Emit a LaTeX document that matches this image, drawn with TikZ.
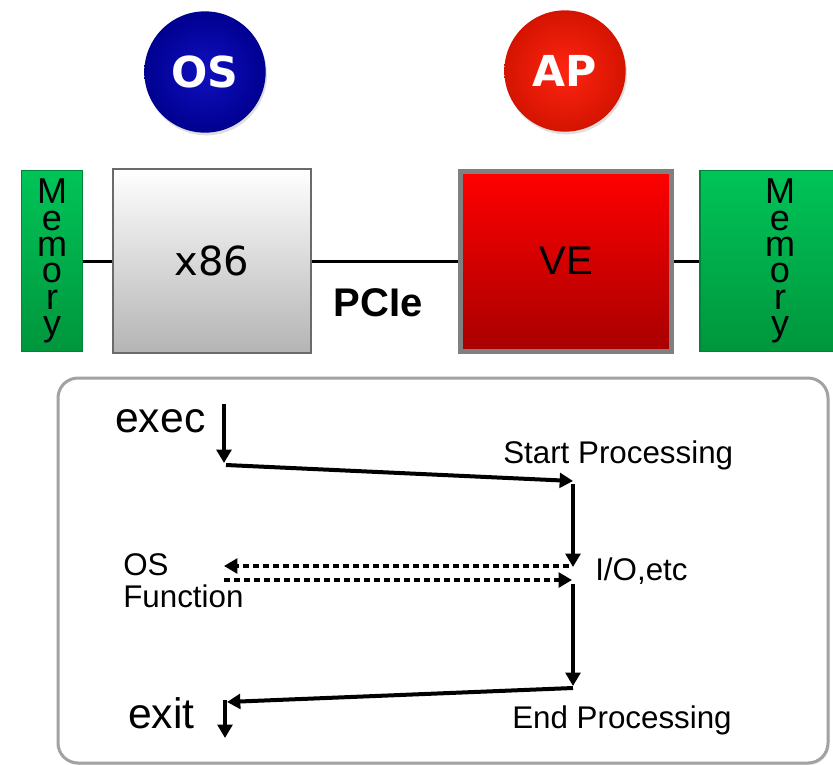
\documentclass[tikz,border=0pt]{standalone}
\usepackage{fontspec}
\setmainfont{Liberation Sans}
\newfontfamily\dejavu{DejaVu Sans}
\usepackage{xcolor}
\usepackage{tikz}
\usetikzlibrary{positioning,calc,arrows.meta,shadows}

\definecolor{osin}{HTML}{1010C0}
\definecolor{osout}{HTML}{000090}
\definecolor{apin}{HTML}{FF2412}
\definecolor{apout}{HTML}{D41400}
\definecolor{memtop}{HTML}{00C458}
\definecolor{membot}{HTML}{00963C}
\definecolor{memedge}{HTML}{00843A}
\definecolor{x86bot}{HTML}{B4B4B4}
\definecolor{x86edge}{HTML}{6A6A6A}
\definecolor{vetop}{HTML}{FF0000}
\definecolor{vebot}{HTML}{A80000}
\definecolor{veedge}{HTML}{808080}
\definecolor{panelgray}{HTML}{A2A2A2}

\tikzset{
  badge/.style={circle, minimum size=91pt, inner sep=0pt, text=white,
    font=\dejavu\bfseries\fontsize{32}{32}\selectfont,
    drop shadow={shadow xshift=1pt, shadow yshift=-2pt, opacity=0.25}},
  membox/.style={rectangle, minimum width=46pt, minimum height=136pt, inner sep=0pt,
    draw=memedge, line width=0.8pt, top color=memtop, bottom color=membot,
    align=center, font=\fontsize{27}{19.7}\selectfont},
  chip/.style={rectangle, inner sep=0pt},
  flow/.style={line width=3pt, -{Triangle[length=10pt,width=11pt]}},
  call/.style={flow, dash pattern=on 4.5pt off 3pt},
  lbl/.style={anchor=base west, inner sep=0pt, font=\fontsize{23.5}{24}\selectfont},
}

\begin{document}
\begin{tikzpicture}[x=0.75pt,y=-0.75pt]
    \clip (0,0) rectangle (833,765);
    \fill[white] (0,0) rectangle (833,765);

    % Processors
    \node[badge, inner color=osin, outer color=osout] (os) at (205,72) {OS};
    \node[badge, inner color=apin, outer color=apout] (ap) at (565,71) {AP};

    \node[membox] (memL) at (52,261) {M\\e\\m\\o\\r\\y};
    \node[chip, minimum width=148.5pt, minimum height=138pt, draw=x86edge, line width=1.5pt,
      top color=white, bottom color=x86bot, font=\dejavu\fontsize{30}{30}\selectfont] (x86) at (212,261) {x86};
    \node[chip, minimum width=158pt, minimum height=135pt, draw=veedge, line width=3.75pt,
      top color=vetop, bottom color=vebot, font=\fontsize{30}{30}\selectfont] (ve) at (566,261) {VE};
    \node[membox, minimum width=120pt] (memR) at (780,261) {M\\e\\m\\o\\r\\y};
    \node[font=\bfseries\fontsize{30}{30}\selectfont] (pcie) at (378,303) {PCIe};

    \draw[line width=2.25pt] (memL) -- (x86) (x86) -- (ve) (ve) -- (memR);

    % Process flow
    \draw[draw=panelgray, line width=2.25pt, rounded corners=15pt, fill=white,
      drop shadow={shadow xshift=1pt, shadow yshift=-1.5pt, opacity=0.2}] (58,378) rectangle (828,763);

    \node[lbl, font=\fontsize{32}{32}\selectfont] (exec) at (115,432) {exec};
    \node[lbl] (start) at (503,463) {Start Processing};
    \node[lbl] (io) at (595,580) {I/O,etc};
    \node[lbl, align=left] (osfn) at (123,607) {OS\\Function};
    \node[lbl] (endp) at (512,728) {End Processing};
    \node[lbl, font=\fontsize{32}{32}\selectfont] (exit) at (128,728) {exit};

    \coordinate (execA) at (224,404);
    \coordinate (execB) at (224,463);
    \coordinate (startA) at (226,465);
    \coordinate (startB) at (573,481);
    \coordinate (ioA) at (573,484);
    \coordinate (ioB) at (573,567);
    \coordinate (callA) at (569,566);
    \coordinate (callB) at (224,566);
    \coordinate (retA) at (224,580);
    \coordinate (retB) at (572,580);
    \coordinate (endA) at (573,584);
    \coordinate (endB) at (573,686);
    \coordinate (exitA) at (573,688);
    \coordinate (exitB) at (227,702);
    \coordinate (exitC) at (225,700);
    \coordinate (exitD) at (225,738);

    \draw[flow] (execA) -- (execB);
    \draw[flow] (startA) -- (startB);
    \draw[flow] (ioA) -- (ioB);
    \draw[call] (callA) -- (callB);
    \draw[call] (retA) -- (retB);
    \draw[flow] (endA) -- (endB);
    \draw[flow] (exitA) -- (exitB);
    \draw[flow] (exitC) -- (exitD);

\end{tikzpicture}
\end{document}
